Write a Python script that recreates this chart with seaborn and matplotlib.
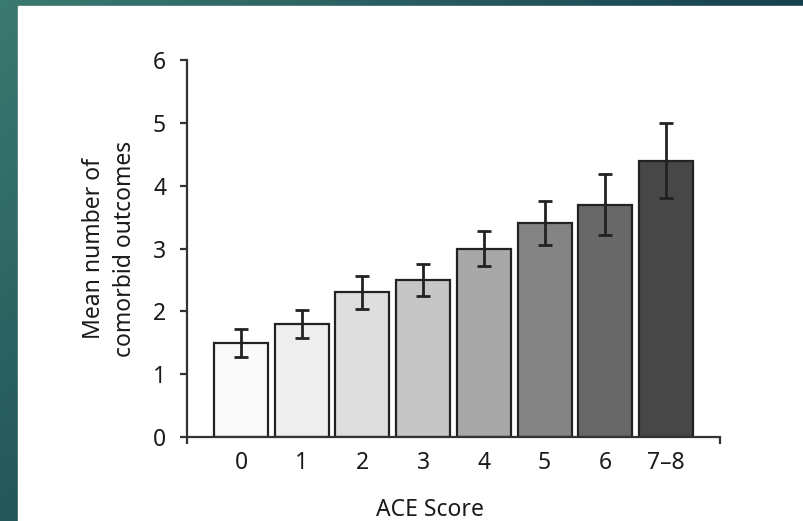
import numpy as np
import matplotlib
matplotlib.use("Agg")
import matplotlib.pyplot as plt
from matplotlib.patches import Rectangle
import seaborn as sns

ace_scores = ['0', '1', '2', '3', '4', '5', '6', '7–8']
mean_outcomes = [1.5, 1.8, 2.3, 2.5, 3.0, 3.4, 3.7, 4.4]
error_half = [0.22, 0.22, 0.26, 0.25, 0.28, 0.35, 0.48, 0.6]
bar_colors = ['#fafafa', '#eeeeee', '#dedede', '#c6c6c6', '#a8a8a8', '#848484', '#686868', '#474747']

sns.set_style('ticks')
plt.rcParams['font.family'] = ['Noto Sans', 'DejaVu Sans']

fig = plt.figure(figsize=(8.04, 5.21), dpi=100)

# teal slide background with white panel
bg = fig.add_axes([0, 0, 1, 1], zorder=-10)
tl = np.array([59, 122, 112]) / 255
tr = np.array([22, 64, 80]) / 255
bl = np.array([36, 86, 90]) / 255
br = np.array([12, 42, 55]) / 255
u = np.linspace(0, 1, 200)[None, :, None]
v = np.linspace(0, 1, 130)[:, None, None]
grad = (1 - v) * ((1 - u) * tl + u * tr) + v * ((1 - u) * bl + u * br)
bg.imshow(grad, aspect='auto', extent=[0, 1, 0, 1])
bg.add_patch(Rectangle((18 / 804, 0), 1, 1 - 6 / 521, color='white'))
bg.set_xlim(0, 1)
bg.set_ylim(0, 1)
bg.axis('off')

ax = fig.add_axes([187 / 804, 1 - 437 / 521, 533 / 804, 377 / 521])
ax.patch.set_alpha(0)

sns.barplot(x=ace_scores, y=mean_outcomes, hue=ace_scores, palette=bar_colors,
            legend=False, width=0.89, edgecolor='#222222', linewidth=1.6,
            errorbar=None, ax=ax)
ax.errorbar(x=np.arange(len(ace_scores)), y=mean_outcomes, yerr=error_half,
            fmt='none', ecolor='#222222', elinewidth=2, capsize=5, capthick=2)

ax.set_xlim(-0.89, 7.89)
ax.set_ylim(0, 6)
ax.set_yticks(range(7))
ax.set_xticks([-0.89, 7.89], minor=True)
sns.despine(ax=ax)
for s in ['left', 'bottom']:
    ax.spines[s].set_linewidth(1.6)
    ax.spines[s].set_color('#333333')

ax.tick_params(axis='y', length=5, width=1.6, color='#333333', pad=10,
               labelsize=16.5, labelcolor='#1a1a1a')
ax.tick_params(axis='x', length=0, pad=10, labelsize=16.5, labelcolor='#1a1a1a')
ax.tick_params(axis='x', which='minor', length=5, width=1.6, color='#333333')

# axis label sits low, partly cut by the slide edge as in the source
ax.set_xlabel('ACE Score', fontsize=16.5, color='#1a1a1a')
ax.xaxis.set_label_coords(0.456, -0.163)
ax.set_ylabel('Mean number of\ncomorbid outcomes', fontsize=16.5, color='#1a1a1a',
              linespacing=1.4)
ax.yaxis.set_label_coords(-0.094, 0.5)

fig.savefig('out.png', dpi=100)
